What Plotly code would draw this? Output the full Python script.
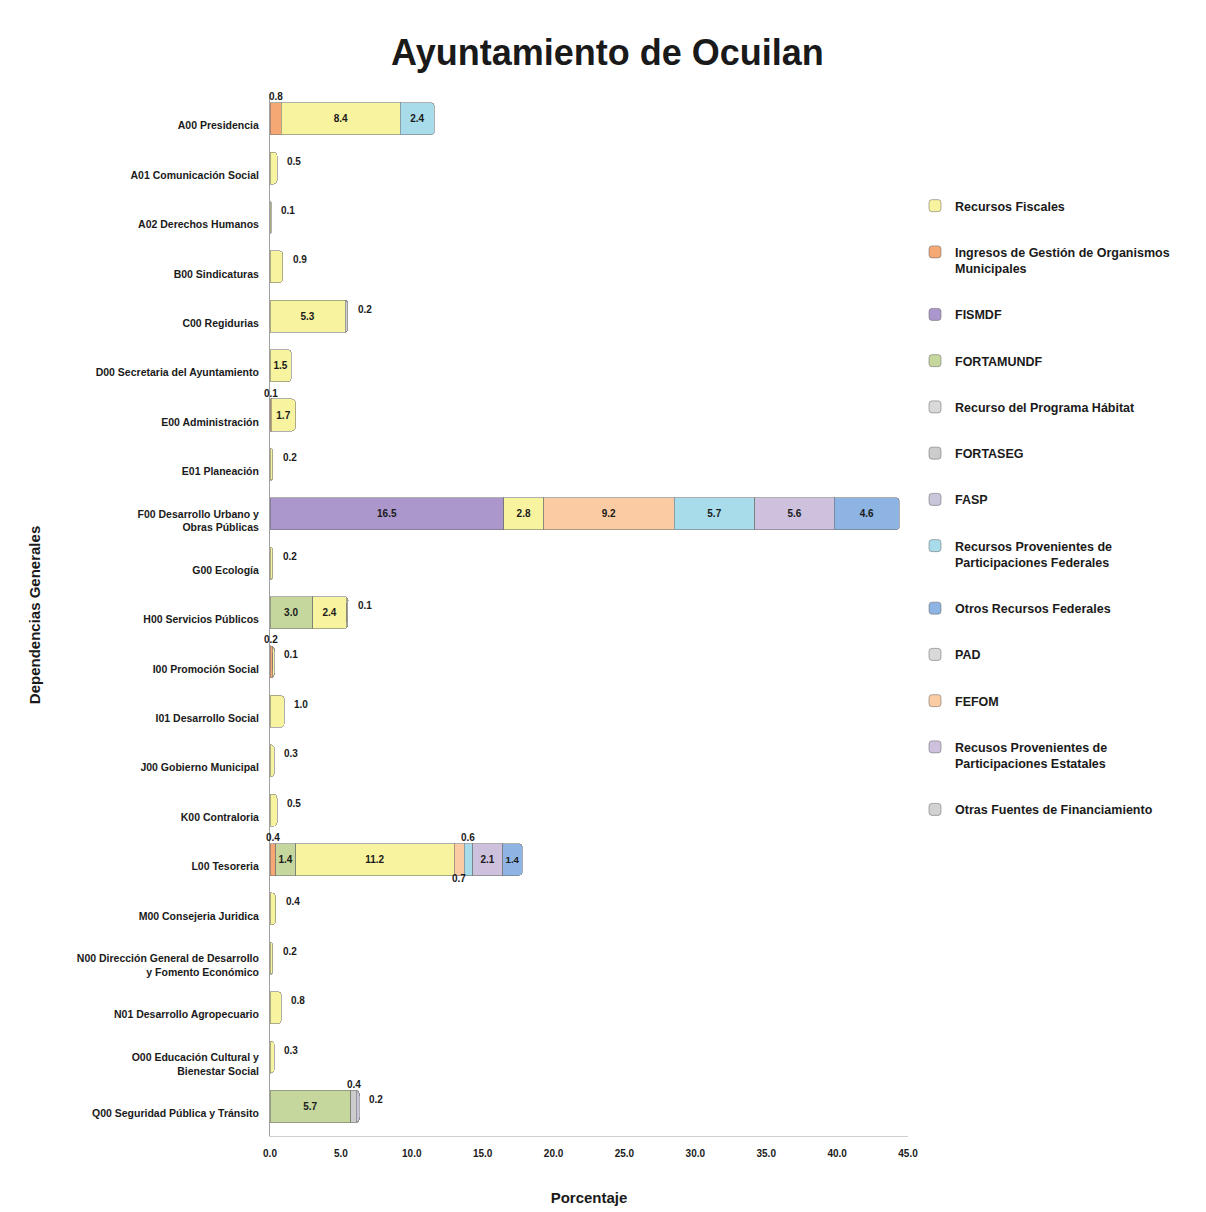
import plotly.graph_objects as go

# Data
categories = [
    "A00 Presidencia", "A01 Comunicación Social", "A02 Derechos Humanos",
    "B00 Sindicaturas", "C00 Regidurias", "D00 Secretaria del Ayuntamiento",
    "E00 Administración", "E01 Planeación",
    "F00 Desarrollo Urbano y<br>Obras Públicas", "G00 Ecología",
    "H00 Servicios Públicos", "I00 Promoción Social", "I01 Desarrollo Social",
    "J00 Gobierno Municipal", "K00 Contraloria", "L00 Tesoreria",
    "M00 Consejeria Juridica",
    "N00 Dirección General de Desarrollo<br>y Fomento Económico",
    "N01 Desarrollo Agropecuario",
    "O00 Educación Cultural y<br>Bienestar Social",
    "Q00 Seguridad Pública y Tránsito",
]

#            A00   A01   A02   B00   C00   D00   E00   E01   F00   G00   H00   I00   I01   J00   K00   L00   M00   N00   N01   O00   Q00
fismdf =    [None, None, None, None, None, None, None, None, 16.5, None, None, None, None, None, None, None, None, None, None, None, None]
ingresos =  [0.8,  None, None, None, None, None, 0.1,  None, None, None, None, 0.2,  None, None, None, 0.4,  None, None, None, None, None]
fortamundf = [None, None, None, None, None, None, None, None, None, None, 3.0,  None, None, None, None, 1.4,  None, None, None, None, 5.7]
fiscales =  [8.4,  0.5,  0.1,  0.9,  5.3,  1.5,  1.7,  0.2,  2.8,  0.2,  2.4,  0.1,  1.0,  0.3,  0.5,  11.2, 0.4,  0.2,  0.8,  0.3,  None]
fefom =     [None, None, None, None, None, None, None, None, 9.2,  None, None, None, None, None, None, 0.7,  None, None, None, None, None]
part_fed =  [2.4,  None, None, None, None, None, None, None, 5.7,  None, None, None, None, None, None, 0.6,  None, None, None, None, None]
part_est =  [None, None, None, None, None, None, None, None, 5.6,  None, None, None, None, None, None, 2.1,  None, None, None, None, None]
otros_fed = [None, None, None, None, None, None, None, None, 4.6,  None, None, None, None, None, None, 1.4,  None, None, None, None, None]
fortaseg =  [None, None, None, None, None, None, None, None, None, None, None, None, None, None, None, None, None, None, None, None, 0.4]
fasp =      [None, None, None, None, None, None, None, None, None, None, None, None, None, None, None, None, None, None, None, None, 0.2]
otras =     [None, None, None, None, 0.2,  None, None, None, None, None, 0.1,  None, None, None, None, None, None, None, None, None, None]
habitat =   [None] * 21
pad =       [None] * 21

# series in stacking order: (name, values, colour, legend position)
series = [
    ("FISMDF", fismdf, "#ab97cb", 3),
    ("Ingresos de Gestión de Organismos<br>Municipales", ingresos, "#f5a874", 2),
    ("FORTAMUNDF", fortamundf, "#c5d79c", 4),
    ("Recursos Fiscales", fiscales, "#f7f39e", 1),
    ("FEFOM", fefom, "#fbcba3", 11),
    ("Recursos Provenientes de<br>Participaciones Federales", part_fed, "#a9dcea", 8),
    ("Recusos Provenientes de<br>Participaciones Estatales", part_est, "#cdc1dd", 12),
    ("Otros Recursos Federales", otros_fed, "#8db4e2", 9),
    ("FORTASEG", fortaseg, "#cccccc", 6),
    ("FASP", fasp, "#c9c5da", 7),
    ("Otras Fuentes de Financiamiento", otras, "#d2d2d2", 13),
    ("Recurso del Programa Hábitat", habitat, "#d9d9d9", 5),
    ("PAD", pad, "#d9d9d9", 10),
]

INSIDE_MIN = 1.3
bold = dict(family="Arial, Liberation Sans, sans-serif", color="#1a1a1a", weight="bold")

fig = go.Figure()
for name, vals, col, rank in series:
    txt = ["%.1f" % v if v is not None and v >= INSIDE_MIN else "" for v in vals]
    fig.add_trace(go.Bar(
        y=categories, x=vals, name=name, orientation="h",
        marker=dict(color=col, line=dict(color="rgba(110,110,110,0.55)", width=1),
                    cornerradius=4),
        text=txt, textposition="inside", insidetextanchor="middle", textangle=0,
        constraintext="none", cliponaxis=False,
        textfont=dict(size=10, **bold),
        legendrank=rank, legendgroup=name,
    ))

# labels of the small segments, placed from the running totals
annotations = []
for i, cat in enumerate(categories):
    segs = [s[1][i] for s in series if s[1][i] is not None]
    cum = 0.0
    for k, v in enumerate(segs):
        start, cum = cum, cum + v
        if v >= INSIDE_MIN:
            continue
        label = "%.1f" % v
        if k == len(segs) - 1:
            annotations.append(dict(x=cum, y=cat, text=label, showarrow=False,
                                    xanchor="left", xshift=8, yshift=7,
                                    font=dict(size=10, **bold)))
        else:
            nxt = segs[k + 1]
            below = nxt < INSIDE_MIN and k + 1 < len(segs) - 1
            annotations.append(dict(x=(start + cum) / 2, y=cat, text=label, showarrow=False,
                                    xanchor="center", yshift=-19 if below else 22,
                                    font=dict(size=10, **bold)))

fig.update_layout(
    width=1206, height=1212,
    barmode="stack", bargap=0.35,
    plot_bgcolor="white", paper_bgcolor="white",
    margin=dict(l=262, r=306, t=86, b=84, autoexpand=False),
    title=dict(text="Ayuntamiento de Ocuilan", x=0.497, xanchor="center",
               y=1 - 44 / 1212, yref="container", yanchor="middle",
               font=dict(size=36, **bold)),
    xaxis=dict(range=[0, 45], dtick=5, tickformat=".1f", showgrid=False,
               zeroline=False, showline=True, linecolor="#d0d0d0", automargin=False,
               ticks="", ticklabelstandoff=8, tickfont=dict(size=10, **bold),
               title=dict(text="Porcentaje", font=dict(size=15, **bold), standoff=34)),
    yaxis=dict(autorange="reversed", showgrid=False, showline=True, automargin=False,
               linecolor="#a0a0a0", ticks="", ticklabelstandoff=8, ticklabelshift=-7,
               tickfont=dict(size=10.5, **bold),
               title=dict(text="Dependencias Generales", font=dict(size=15, **bold), standoff=32)),
    legend=dict(x=907 / 1206, xref="container", xanchor="left",
                y=1 - 183 / 1212, yref="container", yanchor="top",
                traceorder="grouped", tracegroupgap=27, itemwidth=30,
                valign="top", maxheight=900,
                font=dict(size=12.5, **bold), bgcolor="rgba(0,0,0,0)"),
    annotations=annotations,
)

fig.write_html("out.html")
